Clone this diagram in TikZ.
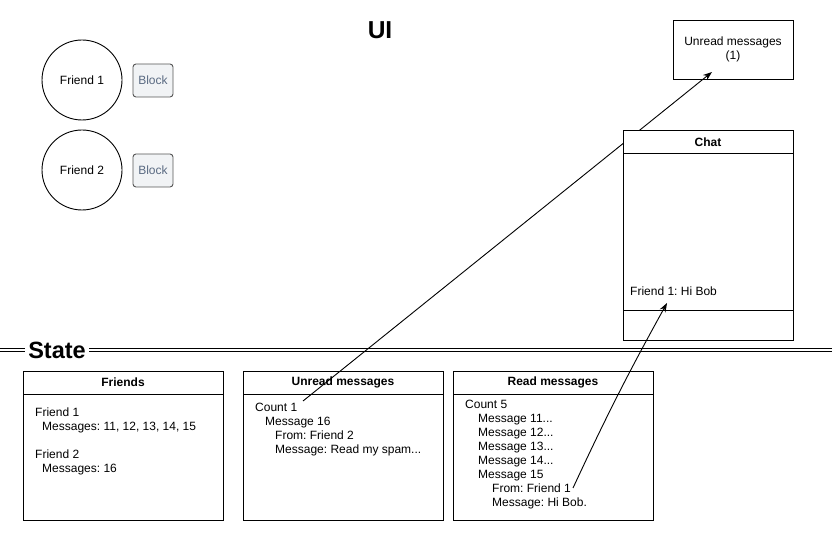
\documentclass[tikz,border=0pt]{standalone}
\usepackage{fontspec}
\setmainfont{Liberation Sans}
\usetikzlibrary{arrows.meta}
\definecolor{btnfill}{HTML}{F1F3F5}
\definecolor{btndraw}{HTML}{555555}
\definecolor{btntext}{HTML}{5A6A82}
\frenchspacing
\begin{document}
\frenchspacing
\begin{tikzpicture}[x=1pt,y=-1pt,
  font=\fontsize{12}{14}\selectfont\frenchspacing,
  every node/.style={inner sep=0pt},
  lane/.style={draw, line width=0.9pt, fill=white, minimum width=200pt, minimum height=149pt, anchor=north west},
  uibox/.style={draw, line width=0.9pt, fill=white},
  friendc/.style={circle, draw, line width=0.9pt, minimum size=80pt},
  btn/.style={draw=btndraw, line width=0.9pt, rounded corners=3pt, fill=btnfill, text=btntext, minimum width=40pt, minimum height=33pt},
  title/.style={font=\fontsize{12}{14}\selectfont\bfseries},
  content/.style={anchor=north west, align=left},
  link/.style={line width=0.9pt, -{Stealth[length=9pt,width=6.5pt]}}
]
\useasboundingbox (0,0) rectangle (832,537);

% ---- UI ----
\node[font=\fontsize{24.5}{26}\selectfont\bfseries] (ui) at (380,30) {UI};
\node[friendc] (f1) at (82,80) {Friend 1};
\node[friendc] (f2) at (82,170) {Friend 2};
\node[btn] (b1) at (153,80.5) {Block};
\node[btn] (b2) at (153,170.5) {Block};
\node[uibox, minimum width=120pt, minimum height=59pt, align=center] (ur) at (733,49.5) {Unread messages\\(1)};

% ---- State separator ----
\draw[line width=0.8pt, double, double distance=2.6pt] (0,350) -- (832,350);
\node[fill=white, inner xsep=3pt, inner ysep=1pt, font=\fontsize{23.5}{25}\selectfont\bfseries] (st) at (57,350) {State};

% ---- State boxes ----
\node[lane] (fr) at (23,371) {};
\draw[line width=0.9pt] (23,394) -- (223,394);
\node[title] (frt) at (123,382.5) {Friends};
\node[content] (frc) at (35,407.5) {Friend 1\\\hspace{7pt}Messages: 11, 12, 13, 14, 15\\[14pt]Friend 2\\\hspace{7pt}Messages: 16};

\node[lane] (um) at (243,371) {};
\draw[line width=0.9pt] (243,394) -- (443,394);
\node[title] (umt) at (343,382.5) {Unread messages};
\node[content] (umc) at (255,402.5) {Count 1\\\hspace{10pt}Message 16\\\hspace{20pt}From: Friend 2\\\hspace{20pt}Message: Read my spam...};

\node[lane] (rm) at (453,371) {};
\draw[line width=0.9pt] (453,394) -- (653,394);
\node[title] (rmt) at (553,382.5) {Read messages};
\node[content] (rmc) at (465,399.5) {Count 5\\\hspace{13pt}Message 11...\\\hspace{13pt}Message 12...\\\hspace{13pt}Message 13...\\\hspace{13pt}Message 14...\\\hspace{13pt}Message 15\\\hspace{27pt}From: Friend 1\\\hspace{27pt}Message: Hi Bob.};

% ---- arrow to unread counter (passes behind chat box) ----
\coordinate (a1s) at (303,401);
\coordinate (a1e) at (712,72);
\draw[link] (a1s) -- (a1e);

% ---- Chat ----
\node[uibox, minimum width=170pt, minimum height=210pt, anchor=north west] (chat) at (623,130) {};
\draw[line width=0.9pt] (623,153) -- (793,153);
\draw[line width=0.9pt] (623,310) -- (793,310);
\node[title] (chatt) at (708,142.5) {Chat};
\node[anchor=west] (msg) at (630,291) {Friend 1: Hi Bob};

% ---- arrow to chat message ----
\coordinate (a2s) at (573,488);
\coordinate (a2e) at (667,303);
\draw[link] (a2s) to[bend left=2] (a2e);
\end{tikzpicture}
\end{document}
